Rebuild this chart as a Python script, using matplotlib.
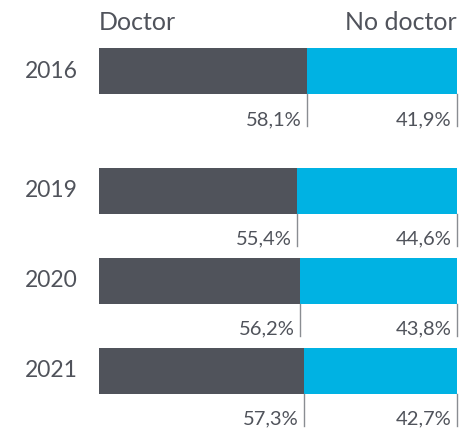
import numpy as np
import matplotlib.pyplot as plt

years = ["2016", "2019", "2020", "2021"]
doctor = [58.1, 55.4, 56.2, 57.3]
no_doctor = [41.9, 44.6, 43.8, 42.7]
series_names = ["Doctor", "No doctor"]

ypos = np.array([0, 1.33, 2.33, 3.33])
dark = "#50535b"
cyan = "#00b2e3"
txt = "#50535b"
tick_c = "#8a8d92"
fs = 15

plt.rcParams['font.family'] = ['Lato', 'DejaVu Sans']

fig = plt.figure(figsize=(4.59, 4.34), dpi=100)
ax = fig.add_axes([99 / 459, 0, 358 / 459, 1])
ax.set_xlim(0, 100)
ax.set_ylim(4.033, -0.789)
ax.axis("off")

h = 0.51
ax.barh(ypos, doctor, height=h, color=dark)
ax.barh(ypos, no_doctor, left=doctor, height=h, color=cyan)

for i, y in enumerate(ypos):
    ax.text(-5.9, y, years[i], ha="right", va="center", fontsize=fs + 1.5, color=txt)
    ends = [doctor[i], doctor[i] + no_doctor[i]]
    vals = [doctor[i], no_doctor[i]]
    for e, v in zip(ends, vals):
        ax.plot([e, e], [y + h / 2, y + 0.61], color=tick_c, lw=1, clip_on=False)
        ax.text(e - 1.6, y + 0.6, f"{v:.1f}%".replace(".", ","), ha="right",
                va="baseline", fontsize=fs - 0.5, color=txt)

ax.text(0, -0.456, series_names[0], ha="left", va="baseline", fontsize=fs + 3, color=txt)
ax.text(100, -0.456, series_names[1], ha="right", va="baseline", fontsize=fs + 3, color=txt)

plt.savefig("out.png", dpi=100)
